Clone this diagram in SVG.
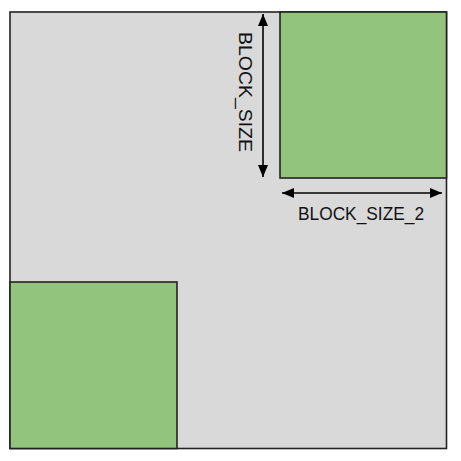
<svg xmlns="http://www.w3.org/2000/svg" width="461" height="461" viewBox="0 0 461 461">
  <defs>
    <style>
      .frame { fill: #d9d9d9; stroke: #222; stroke-width: 1.6; }
      .block { fill: #93c47d; stroke: #222; stroke-width: 1.6; }
      .dim { stroke: #000; stroke-width: 1.6; fill: none; marker-start: url(#arr); marker-end: url(#arr); }
      .lbl { font-family: "Liberation Sans", Arial, sans-serif; fill: #111; }
    </style>
    <marker id="arr" viewBox="0 0 12 10" refX="12" refY="5" markerWidth="12" markerHeight="10" markerUnits="userSpaceOnUse" orient="auto-start-reverse">
      <path d="M0,0 L12,5 L0,10 Z" fill="#000"/>
    </marker>
  </defs>
  <g id="frame">
    <rect class="frame" x="10" y="12" width="436.5" height="436.5"/>
  </g>
  <g id="block-top-right">
    <rect class="block" x="280" y="12" width="166.5" height="166"/>
  </g>
  <g id="block-bottom-left">
    <rect class="block" x="10" y="282" width="167" height="166.5"/>
  </g>
  <g id="connectors">
    <line class="dim" x1="263" y1="14" x2="263" y2="177"/>
    <line class="dim" x1="282" y1="193" x2="442" y2="193"/>
  </g>
  <g id="labels">
    <text class="lbl" font-size="19" text-anchor="middle" transform="translate(239,92) rotate(90)" textLength="120" lengthAdjust="spacingAndGlyphs">BLOCK_SIZE</text>
    <text class="lbl" font-size="17.5" x="361" y="220" text-anchor="middle" textLength="126" lengthAdjust="spacingAndGlyphs">BLOCK_SIZE_2</text>
  </g>
</svg>
